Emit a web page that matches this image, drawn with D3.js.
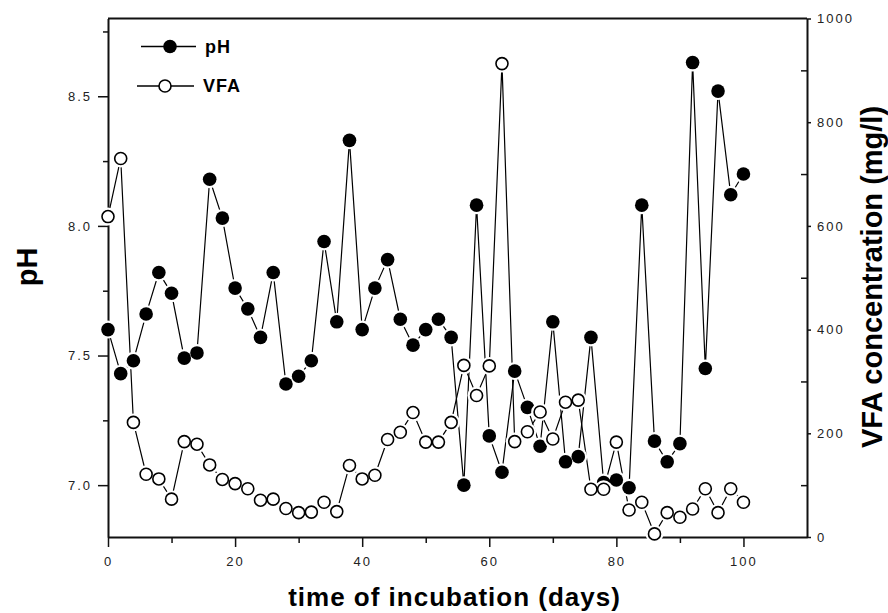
<!DOCTYPE html>
<html>
<head>
<meta charset="utf-8">
<script src="https://cdn.jsdelivr.net/npm/d3@7"></script>
<style>
  body { margin: 0; background: #fff; }
  svg { display: block; font-family: "Liberation Sans", Arial, sans-serif; }
  .tick text { font-size: 13px; fill: #222; letter-spacing: 2px; }
  .domain, .tick line { stroke: #111; }
</style>
</head>
<body>
<div id="chart"></div>
<script>
// sampling days
const days = [0, 2, 4, 6, 8, 10, 12, 14, 16, 18, 20, 22, 24, 26, 28, 30, 32, 34, 36, 38,
  40, 42, 44, 46, 48, 50, 52, 54, 56, 58, 60, 62, 64, 66, 68, 70, 72, 74, 76, 78,
  80, 82, 84, 86, 88, 90, 92, 94, 96, 98, 100];

const phValues = [7.60, 7.43, 7.48, 7.66, 7.82, 7.74, 7.49, 7.51, 8.18, 8.03,
  7.76, 7.68, 7.57, 7.82, 7.39, 7.42, 7.48, 7.94, 7.63, 8.33,
  7.60, 7.76, 7.87, 7.64, 7.54, 7.60, 7.64, 7.57, 7.00, 8.08,
  7.19, 7.05, 7.44, 7.30, 7.15, 7.63, 7.09, 7.11, 7.57, 7.01,
  7.02, 6.99, 8.08, 7.17, 7.09, 7.16, 8.63, 7.45, 8.52, 8.12, 8.20];

const vfaValues = [618, 730, 221, 121, 112, 73, 184, 179, 139, 111,
  103, 93, 71, 73, 55, 47, 48, 67, 49, 138,
  112, 119, 188, 202, 240, 183, 183, 221, 331, 273,
  330, 913, 184, 203, 241, 189, 260, 264, 92, 92,
  183, 52, 67, 6, 47, 38, 54, 93, 47, 93, 67];

const xTicks = [0, 20, 40, 60, 80, 100];
const xMinor = [10, 30, 50, 70, 90];
const phTicks = [7.0, 7.5, 8.0, 8.5];
const phMinor = [7.25, 7.75, 8.25, 8.75];
const vfaTicks = [0, 200, 400, 600, 800, 1000];
const vfaMinor = [100, 300, 500, 700, 900];

const W = 888, H = 613;
const margin = { top: 18.5, right: 81, bottom: 76, left: 108 };
const iw = W - margin.left - margin.right;
const ih = H - margin.top - margin.bottom;

const svg = d3.select("#chart").append("svg").attr("width", W).attr("height", H);
const g = svg.append("g").attr("transform", `translate(${margin.left},${margin.top})`);

const x = d3.scaleLinear().domain([0, 110]).range([0, iw]);
const yPH = d3.scaleLinear().domain([6.8, 8.8]).range([ih, 0]);
const yVFA = d3.scaleLinear().domain([0, 1000]).range([ih, 0]);

// minor ticks first
g.append("g").attr("transform", `translate(0,${ih})`)
  .call(d3.axisBottom(x).tickValues(xMinor).tickSize(6).tickFormat(""))
  .call(a => a.select(".domain").remove())
  .selectAll("line").attr("stroke-width", 1.5);
g.append("g")
  .call(d3.axisLeft(yPH).tickValues(phMinor).tickSize(5).tickFormat(""))
  .call(a => a.select(".domain").remove())
  .selectAll("line").attr("stroke-width", 1.5);
g.append("g").attr("transform", `translate(${iw},0)`)
  .call(d3.axisLeft(yVFA).tickValues(vfaMinor).tickSize(6).tickFormat(""))
  .call(a => a.select(".domain").remove())
  .selectAll("line").attr("stroke-width", 1.5);

// main axes
const xAxis = g.append("g").attr("transform", `translate(0,${ih})`)
  .call(d3.axisBottom(x).tickValues(xTicks).tickSize(10).tickSizeOuter(0).tickPadding(6));
const yAxis = g.append("g")
  .call(d3.axisLeft(yPH).tickValues(phTicks).tickSize(10).tickSizeOuter(0).tickPadding(6).tickFormat(d3.format(".1f")));
const rAxis = g.append("g").attr("transform", `translate(${iw},0)`)
  .call(d3.axisRight(yVFA).tickValues(vfaTicks).tickSize(4).tickSizeOuter(0).tickPadding(6).tickFormat(d3.format("d")));
[xAxis, yAxis, rAxis].forEach(a => {
  a.select(".domain").attr("stroke-width", 2);
  a.selectAll(".tick line").attr("stroke-width", 1.5);
});
xAxis.selectAll(".tick text").attr("dy", "1em");

// top border
g.append("line").attr("x1", 0).attr("x2", iw).attr("y1", 0).attr("y2", 0)
  .attr("stroke", "#111").attr("stroke-width", 2);

// series
const phLine = d3.line().x((d, i) => x(days[i])).y(d => yPH(d));
const vfaLine = d3.line().x((d, i) => x(days[i])).y(d => yVFA(d));

g.append("path").datum(phValues).attr("d", phLine)
  .attr("fill", "none").attr("stroke", "#000").attr("stroke-width", 1.2);
g.append("path").datum(vfaValues).attr("d", vfaLine)
  .attr("fill", "none").attr("stroke", "#000").attr("stroke-width", 1.2);

// markers with white halo (gap in the line around each point)
function drawMarkers(values, yScale, filled) {
  const m = g.append("g");
  m.selectAll("circle.halo").data(values).join("circle")
    .attr("class", "halo")
    .attr("cx", (d, i) => x(days[i])).attr("cy", d => yScale(d))
    .attr("r", 9).attr("fill", "#fff");
  m.selectAll("circle.mk").data(values).join("circle")
    .attr("class", "mk")
    .attr("cx", (d, i) => x(days[i])).attr("cy", d => yScale(d))
    .attr("r", filled ? 6.8 : 6)
    .attr("fill", filled ? "#000" : "#fff")
    .attr("stroke", "#000").attr("stroke-width", filled ? 0 : 1.6);
}
drawMarkers(phValues, yPH, true);
drawMarkers(vfaValues, yVFA, false);

// legend
const legend = g.append("g");
const legendItems = [
  { label: "pH", filled: true, x0: 33, x1: 88, mx: 62, y: 28 },
  { label: "VFA", filled: false, x0: 29, x1: 86, mx: 57, y: 67.5 }
];
legendItems.forEach(it => {
  legend.append("line").attr("x1", it.x0).attr("x2", it.x1).attr("y1", it.y).attr("y2", it.y)
    .attr("stroke", "#000").attr("stroke-width", 1.5);
  legend.append("circle").attr("cx", it.mx).attr("cy", it.y).attr("r", it.filled ? 6.8 : 6)
    .attr("fill", it.filled ? "#000" : "#fff").attr("stroke", "#000")
    .attr("stroke-width", it.filled ? 0 : 1.6);
  legend.append("text").attr("x", it.x1 + 9).attr("y", it.y).attr("dy", "0.35em")
    .style("font-size", "18px").style("font-weight", "bold").style("letter-spacing", "1px")
    .text(it.label);
});

// axis titles
svg.append("text")
  .attr("x", margin.left + x(55) - 3).attr("y", 606)
  .attr("text-anchor", "middle")
  .style("font-size", "26px").style("font-weight", "bold").style("letter-spacing", "1px")
  .text("time of incubation (days)");

svg.append("text")
  .attr("transform", `translate(37,267) rotate(-90)`)
  .attr("text-anchor", "middle")
  .style("font-size", "29px").style("font-weight", "bold")
  .text("pH");

svg.append("text")
  .attr("transform", `translate(882,277) rotate(-90)`)
  .attr("text-anchor", "middle")
  .style("font-size", "29px").style("font-weight", "bold")
  .text("VFA concentration (mg/l)");
</script>
</body>
</html>
